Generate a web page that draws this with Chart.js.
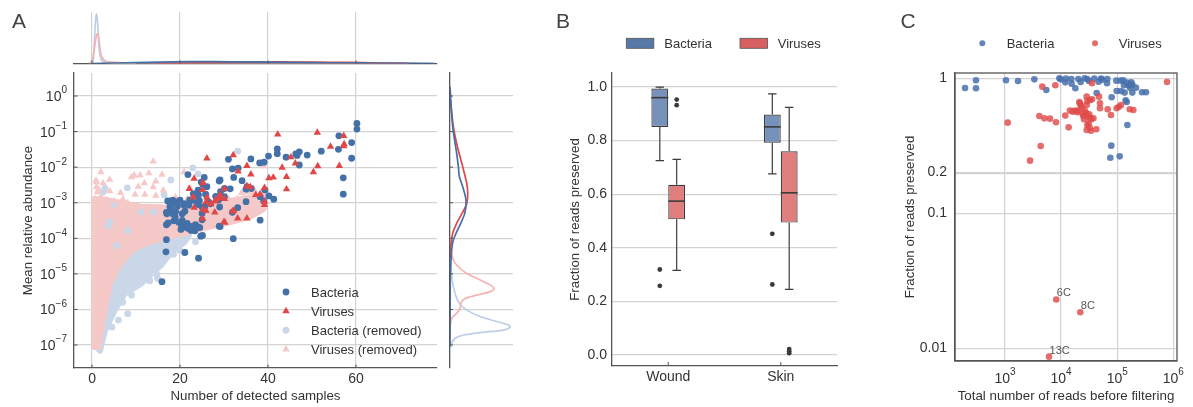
<!DOCTYPE html>
<html>
<head>
<meta charset="utf-8">
<title>Read filtering overview</title>
<script src="https://cdn.jsdelivr.net/npm/chart.js@4.4.1/dist/chart.umd.min.js"></script>
<style>
  html, body { margin: 0; padding: 0; background: #fff; }
  #wrap { position: relative; width: 1193px; height: 407px; overflow: hidden; }
  #wrap canvas { position: absolute; left: 0; top: 0; }
</style>
</head>
<body>
<div id="wrap">
  <canvas id="aTop" width="1193" height="407"></canvas>
  <canvas id="aRight" width="1193" height="407"></canvas>
  <canvas id="aMain" width="1193" height="407"></canvas>
  <canvas id="bBox" width="1193" height="407"></canvas>
  <canvas id="cReads" width="1193" height="407"></canvas>
</div>
<script>
// ---------- panel A: detected samples vs mean relative abundance (abundance stored as log10) ----------
const bacSamples = [60.2,60.2,56.1,59.0,56.0,59.0,57.1,57.1,52.1,48.9,47.1,46.3,46.6,47.1,44.1,42.1,42.1,40.1,39.1,38.1,
  36.1,33.2,31.9,31.0,32.2,34.1,35.2,36.2,29.1,30.1,30.1,29.2,25.5,25.2,26.1,25.8,24.4,22.2,20.8,24.2,
  25.0,21.2,23.6,22.1,22.8,38.2,39.3,40.2,41.3,33.1,29.1,32.1,38.2,25.1,21.1,24.2,17.7,18.9,21.8,24.8,
  28.9,24.1,23.8,18.3,20.0,17.9,19.4,20.9,22.0,22.8,24.1,25.6,26.9,28.8,17.0,18.3,20.5,18.6,20.5,20.9,
  22.0,23.2,24.1,24.7,16.9,17.3,16.8,15.9,28.9,31.9,35.0,39.0,35.0,23.0,23.9,25.0,21.1,16.9,16.9,18.9,
  19.7,21.1,25.0,26.5,28.1,31.4,29.0,21.5,22.5,23.5,20.2,24.5,20.3,21.6,23.4,17.2,18.0,19.0];
const bacLogAbund = [-0.77,-0.93,-1.12,-1.31,-1.50,-1.75,-2.30,-2.76,-1.55,-1.66,-1.57,-1.63,-1.67,-1.94,-1.72,-1.49,-1.62,-1.69,-1.86,-1.88,
  -1.77,-2.03,-2.05,-1.78,-2.29,-2.38,-2.55,-2.60,-2.36,-2.60,-2.83,-2.69,-2.29,-2.50,-2.55,-2.76,-2.94,-2.92,-3.06,-2.78,
  -3.30,-3.63,-3.72,-3.66,-3.67,-2.83,-2.64,-2.81,-2.90,-3.14,-3.67,-4.01,-3.49,-3.92,-4.40,-4.56,-3.11,-2.97,-2.21,-2.42,
  -2.39,-2.65,-2.80,-2.93,-2.93,-3.07,-3.10,-3.03,-3.07,-2.93,-3.05,-3.12,-3.03,-2.92,-3.31,-3.31,-3.31,-3.51,-3.50,-3.68,
  -3.73,-3.73,-3.68,-3.94,-4.04,-3.57,-4.38,-5.22,-3.66,-3.27,-2.97,-2.95,-2.62,-2.75,-3.00,-3.48,-3.03,-3.27,-3.62,-3.40,
  -3.55,-3.24,-3.12,-2.98,-2.82,-2.61,-3.12,-3.70,-3.78,-3.62,-3.75,-3.70,-3.62,-3.58,-3.79,-2.95,-3.20,-3.25];

const virSamples = [42.2,51.2,57.2,57.3,57.2,54.2,45.2,46.2,56.2,51.3,50.3,43.2,44.2,44.2,32.1,35.2,36.1,26.1,23.2,22.1,
  25.2,25.1,30.1,33.2,35.2,37.2,38.2,39.2,40.2,41.2,39.2,39.2,35.2,33.1,30.2,27.0,26.1,29.1,28.1,32.2,
  25.2,23.2,25.1,30.1,23.0,26.9,25.9,27.9,27.9,29.0,30.0,31.9,36.0,25.9];
const virLogAbund = [-1.08,-1.03,-1.12,-1.35,-1.41,-1.42,-1.72,-1.89,-1.96,-1.97,-2.14,-2.01,-2.27,-2.62,-1.66,-1.96,-2.20,-1.75,-2.32,-2.61,
  -2.44,-2.64,-2.61,-2.12,-2.53,-2.78,-2.76,-2.58,-2.31,-2.29,-3.06,-2.97,-3.44,-3.44,-3.56,-3.04,-2.85,-2.78,-2.92,-3.22,
  -3.19,-3.14,-3.45,-2.89,-2.84,-3.03,-3.23,-2.96,-3.27,-2.87,-3.54,-3.24,-2.56,-2.98];

// removed taxa lying outside the dense clouds
const virRemSamples = [2.0,4.0,1.0,1.0,9.0,9.6,10.9,12.9,13.9,15.9,11.9,13.9,16.2,9.8,12.0,4.0,2.0,3.2,6.1,8.1,
  20.9,22.2,21.7,28.8,34.0,35.5,37.0,39.0,0.9,1.2,0.8,1.5,5.0,7.0,14.5,17.5,19.0,24.0,26.0,31.0,
  33.0,36.5,38.5,2.5,6.5,10.5,14.5];
const virRemLogAbund = [-2.14,-2.35,-2.42,-2.56,-2.28,-2.23,-2.23,-2.17,-1.84,-2.21,-2.45,-2.56,-2.65,-2.77,-2.77,-2.67,-2.84,-2.92,-3.07,-3.01,
  -2.14,-2.58,-2.89,-2.79,-2.72,-2.70,-2.68,-1.97,-2.37,-2.70,-2.90,-2.62,-2.95,-2.90,-2.80,-2.95,-2.85,-2.95,-2.95,-2.90,
  -2.90,-2.80,-2.70,-2.45,-2.72,-2.55,-2.40];
const bacRemSamples = [2.9,8.0,17.9,22.9,24.1,16.4,5.0,4.0,8.1,11.1,14.0,20.0,14.1,14.7,11.9,13.0,33.1,8.1,14.9,13.1,
  17.4,3.7,5.6,26.0,2.5,21.0,18.5,16.0,12.5,10.0,9.0,7.0,6.0,4.5,23.5];
const bacRemLogAbund = [-2.59,-2.58,-2.36,-2.02,-2.19,-2.78,-3.05,-3.54,-3.78,-3.26,-3.26,-4.34,-4.52,-5.01,-4.85,-5.08,-1.55,-6.12,-5.13,-5.20,
  -4.30,-3.65,-4.21,-2.78,-2.70,-4.40,-4.45,-4.60,-4.70,-4.90,-5.60,-5.80,-6.30,-6.50,-4.10];

// outlines of the thousands of overlapping removed taxa
const virRemCloudSamples = [0.6,1.4,2.5,4.0,5.9,8.9,11.9,16.4,20.0,25.5,30.0,33.0,36.5,39.0,39.2,33.0,25.5,18.5,11.0,6.0,3.0,0.5,0.6];
const virRemCloudLogAbund = [-7.05,-7.05,-6.2,-5.27,-4.8,-4.34,-4.15,-3.96,-3.88,-3.7,-3.58,-3.49,-3.35,-3.16,-2.78,-2.92,-3.05,-3.15,-3.12,-3.0,-2.92,-2.9,-7.05];
const bacRemCloudSamples = [0.8,1.8,2.9,5.1,7.4,11.1,13.4,15.6,17.1,19.0,21.0,22.0,20.0,5.0,0.8,0.8];
const bacRemCloudLogAbund = [-7.0,-7.15,-6.58,-6.02,-5.55,-5.27,-4.99,-4.76,-4.52,-4.3,-4.1,-3.9,-3.6,-3.6,-4.0,-7.0];

// marginal densities: detected samples (top)
const kdeTopBacRemX = [0.0,0.3,0.6,0.85,1.0,1.15,1.4,1.6,1.9,2.3,3,5,10];
const kdeTopBacRemY = [0,0.08,0.55,0.88,0.96,0.9,0.62,0.3,0.12,0.05,0.02,0.008,0];
const kdeTopVirRemX = [-0.6,-0.1,0.4,0.8,1.05,1.25,1.5,1.8,2.1,2.6,3.2,4.5,7,12,20,35,55,72];
const kdeTopVirRemY = [0,0.04,0.2,0.45,0.56,0.58,0.5,0.3,0.16,0.08,0.045,0.025,0.015,0.01,0.008,0.005,0.002,0];
const kdeTopBacX = [0,5,15,22,28,35,45,55,65,75,78];
const kdeTopBacY = [0,0.01,0.025,0.035,0.035,0.03,0.02,0.015,0.01,0.003,0];
const kdeTopVirX = [15,25,35,42,50,58,65,72];
const kdeTopVirY = [0,0.015,0.025,0.03,0.025,0.02,0.01,0];

// marginal densities: log10 abundance (right)
const kdeRightBacLog = [0.26,-0.86,-1.61,-1.99,-2.27,-2.55,-2.83,-3.02,-3.30,-3.58,-3.86,-4.05,-4.24,-4.61,-5.08,-7.05];
const kdeRightBacDen = [0,0.043,0.106,0.133,0.149,0.202,0.245,0.255,0.234,0.170,0.096,0.053,0.032,0.016,0.005,0];
const kdeRightVirLog = [-0.02,-0.86,-1.42,-1.99,-2.46,-2.74,-3.02,-3.30,-3.58,-3.86,-4.24,-4.61];
const kdeRightVirDen = [0,0.053,0.117,0.202,0.266,0.282,0.266,0.191,0.106,0.043,0.011,0];
const kdeRightVirRemLog = [-4.24,-4.61,-4.80,-4.99,-5.17,-5.31,-5.41,-5.50,-5.60,-5.69,-5.83,-5.97,-6.11,-6.25,-6.49];
const kdeRightVirRemDen = [0,0.053,0.133,0.266,0.479,0.638,0.702,0.638,0.426,0.239,0.170,0.160,0.106,0.027,0];
const kdeRightBacRemLog = [-4.33,-5.08,-5.55,-5.83,-6.02,-6.20,-6.34,-6.44,-6.50,-6.58,-6.65,-6.72,-6.81,-6.95,-7.14];
const kdeRightBacRemDen = [0,0.027,0.080,0.149,0.266,0.479,0.745,0.931,0.957,0.851,0.479,0.213,0.080,0.027,0];

const aSampleTicks = [0, 20, 40, 60];
const aDecades = [-7, -6, -5, -4, -3, -2, -1, 0];

// ---------- panel B: fraction of reads kept per site ----------
const boxSites = ['Wound', 'Skin'];
const bacLow = [0.725, 0.676], bacQ1 = [0.851, 0.792], bacMed = [0.960, 0.851], bacQ3 = [0.994, 0.897], bacHigh = [0.999, 0.974];
const virLow = [0.316, 0.245], virQ1 = [0.506, 0.494], virMed = [0.574, 0.605], virQ3 = [0.635, 0.760], virHigh = [0.730, 0.924];
const bacOutliers = [[0.319, 0.258], [0.452, 0.263]];
const virOutliers = [[0.953, 0.932], [0.022, 0.014, 0.007]];
const fracTicks = [0, 0.2, 0.4, 0.6, 0.8, 1.0];

// ---------- panel C: reads before filtering vs fraction kept ----------
const bacReads = [1042,1706,3334,5457,9311,9817,12220,11890,15210,15400,17950,20290,22320,26300,29370,31420,39070,46740,51440,54330,
  66700,65800,43050,96600,115400,128600,132200,149500,160000,178500,186000,169200,216300,97800,116900,135700,186000,276900,326000,79600,
  141600,147700,151800,78500,75400,110700,194,304,304];
const bacFrac = [0.966,0.955,0.982,0.819,1.0,0.982,0.994,0.933,0.988,0.912,0.843,0.988,0.939,1.0,0.988,0.955,0.994,0.944,0.994,0.977,
  0.988,0.918,0.778,0.960,0.960,0.966,0.887,0.928,0.887,0.933,0.897,0.852,0.852,0.805,0.805,0.783,0.783,0.787,0.787,0.723,
  0.687,0.667,0.451,0.317,0.258,0.264,0.848,0.966,0.843];
const virReads = [1116,2793,4325,4093,5023,6340,8110,4624,7890,11890,13640,14410,16080,17700,19460,20290,21730,22320,23280,24230,
  25600,27800,28580,29370,28580,32730,35560,29370,32730,37580,29370,30970,28580,34120,42460,34590,49320,49320,47400,35560,
  67600,77400,97800,116900,166700,194100,773000,107700,21130,26300,31840,32280,24900];
const virFrac = [0.469,0.2454,0.315,0.526,0.505,0.502,0.472,0.867,0.887,0.529,0.433,0.576,0.566,0.576,0.560,0.576,0.653,0.631,0.606,0.544,
  0.497,0.556,0.634,0.679,0.731,0.691,0.698,0.520,0.511,0.505,0.451,0.464,0.414,0.409,0.419,0.497,0.653,0.599,0.731,0.918,
  0.589,0.535,0.599,0.634,0.589,0.582,0.939,0.616,0.667,0.576,0.541,0.431,0.526];
// samples that lost almost everything, labelled by name
const lowNames = ['6C', '8C', '13C'];
const lowReads = [8200, 22000, 6090];
const lowFrac = [0.0230, 0.0185, 0.00867];
const readTicks = [1e3, 1e4, 1e5, 1e6];
const cFracTicks = [0.01, 0.1, 0.2, 1];

// ---------- styling ----------
const FONT = "'Liberation Sans', Arial, Helvetica, sans-serif";
const INK = '#333333';
const GRID = '#d3d3d3';
const SPINE = '#555555';
const BLUE = '#4470a8', RED = '#e04848';
const LBLUE = '#c9d7e9', LPINK = '#f6c9c9';
const LBLUE_LINE = '#bccfe6', LPINK_LINE = '#f4b3b3';
const BOX_BLUE = '#7692ba', BOX_RED = '#e07d7d', LEG_BLUE = '#5878a8', LEG_RED = '#d86060', BOX_EDGE = '#3c3c3c';
const C_BLUE = 'rgba(72,112,170,0.85)', C_RED = 'rgba(224,74,74,0.82)';

Chart.defaults.font.family = FONT;
Chart.defaults.color = INK;
Chart.defaults.animation = false;
Chart.defaults.responsive = false;
Chart.defaults.devicePixelRatio = 1;
Chart.defaults.events = [];
Chart.defaults.plugins.legend.display = false;
Chart.defaults.plugins.tooltip.enabled = false;

const el = id => document.getElementById(id);
const pow10 = e => Math.pow(10, e);
const zipXY = (xs, ys, fy) => xs.map((x, i) => ({ x: x, y: fy ? fy(ys[i]) : ys[i] }));
const setTicks = vals => (s => { s.ticks = vals.map(v => ({ value: v })); });
const titleOpt = text => ({ display: true, text: text, font: { size: 13.3 }, padding: 0, color: INK });

function drawText(ctx, str, x, y, size, align, color) {
  ctx.save();
  ctx.font = size + 'px ' + FONT;
  ctx.fillStyle = color || INK;
  ctx.textAlign = align || 'left';
  ctx.textBaseline = 'alphabetic';
  ctx.fillText(str, x, y);
  ctx.restore();
}

function marker(ctx, style, x, y, r, color) {
  ctx.save();
  ctx.fillStyle = color;
  ctx.beginPath();
  if (style === 'triangle') {
    for (let k = 0; k < 3; k++) {
      const a = k * 2 * Math.PI / 3;
      ctx.lineTo(x + Math.sin(a) * r, y - Math.cos(a) * r);
    }
    ctx.closePath();
  } else {
    ctx.arc(x, y, r, 0, Math.PI * 2);
  }
  ctx.fill();
  ctx.restore();
}

// "10" with a raised exponent, for log axes
function powLabel(ctx, e, x, baseY, anchor) {
  const exp = e < 0 ? '\u2212' + (-e) : String(e);
  ctx.save();
  ctx.fillStyle = INK;
  ctx.textBaseline = 'alphabetic';
  ctx.textAlign = 'left';
  ctx.font = '14px ' + FONT;
  const wb = ctx.measureText('10').width;
  ctx.font = '10px ' + FONT;
  const we = ctx.measureText(exp).width;
  const x0 = anchor === 'right' ? x - wb - we : x - (wb + we) / 2;
  ctx.font = '14px ' + FONT;
  ctx.fillText('10', x0, baseY);
  ctx.font = '10px ' + FONT;
  ctx.fillText(exp, x0 + wb, baseY - 7.6);
  ctx.restore();
}

// short tick marks pointing into the plot
function inwardTicks(chart, id, len) {
  const s = chart.scales[id], a = chart.chartArea, ctx = chart.ctx;
  ctx.save();
  ctx.strokeStyle = SPINE;
  ctx.lineWidth = 1;
  ctx.beginPath();
  s.ticks.forEach((t, i) => {
    const p = s.getPixelForTick(i);
    if (s.isHorizontal()) { ctx.moveTo(p, a.bottom); ctx.lineTo(p, a.bottom - len); }
    else { ctx.moveTo(a.left, p); ctx.lineTo(a.left + len, p); }
  });
  ctx.stroke();
  ctx.restore();
}

// ---------- A: top marginal density ----------
const kdeLine = (xs, ys, color, fy) => ({
  data: zipXY(xs, ys, fy), showLine: true, borderColor: color, borderWidth: 1.7,
  pointRadius: 0, tension: 0.3, fill: false
});

new Chart(el('aTop'), {
  type: 'scatter',
  data: { datasets: [
    kdeLine(kdeTopBacX, kdeTopBacY, BLUE),
    kdeLine(kdeTopVirX, kdeTopVirY, RED),
    kdeLine(kdeTopVirRemX, kdeTopVirRemY, LPINK_LINE),
    kdeLine(kdeTopBacRemX, kdeTopBacRemY, LBLUE_LINE)
  ] },
  options: {
    layout: { padding: { left: 74, right: 756, top: 12, bottom: 343.5 } },
    scales: {
      x: { type: 'linear', min: -4.1, max: 78.4, afterBuildTicks: setTicks(aSampleTicks),
        ticks: { display: false }, grid: { color: GRID, lineWidth: 1.2, drawTicks: false },
        border: { color: SPINE, width: 1.3 }, afterFit: s => { s.height = 0; } },
      y: { display: false, min: 0, max: 1 }
    }
  },
  plugins: [{ id: 'topTicks', afterDraw: c => inwardTicks(c, 'x', 3) }]
});

// ---------- A: right marginal density ----------
new Chart(el('aRight'), {
  type: 'scatter',
  data: { datasets: [
    kdeLine(kdeRightBacDen, kdeRightBacLog, BLUE),
    kdeLine(kdeRightVirDen, kdeRightVirLog, RED),
    kdeLine(kdeRightVirRemDen, kdeRightVirRemLog, LPINK_LINE),
    kdeLine(kdeRightBacRemDen, kdeRightBacRemLog, LBLUE_LINE)
  ].map(d => { d.data = d.data.map(p => ({ x: p.x, y: pow10(p.y) })); return d; }) },
  options: {
    layout: { padding: { left: 450, right: 680, top: 73, bottom: 39 } },
    scales: {
      x: { display: false, min: 0, max: 1 },
      y: { type: 'logarithmic', min: pow10(-7.647), max: pow10(0.647),
        afterBuildTicks: setTicks(aDecades.map(pow10)), ticks: { display: false },
        grid: { color: GRID, lineWidth: 1.2, drawTicks: false },
        border: { color: SPINE, width: 1.3 }, afterFit: s => { s.width = 0; } }
    }
  },
  plugins: [{ id: 'rightTicks', afterDraw: c => inwardTicks(c, 'y', 3) }]
});

// ---------- A: main scatter ----------
const aLegend = [
  ['Bacteria', 'circle', BLUE], ['Viruses', 'triangle', RED],
  ['Bacteria (removed)', 'circle', LBLUE], ['Viruses (removed)', 'triangle', LPINK]
];

new Chart(el('aMain'), {
  type: 'scatter',
  data: { datasets: [
    { label: 'Viruses', data: zipXY(virSamples, virLogAbund, pow10), pointStyle: 'triangle',
      pointRadius: 4.3, backgroundColor: RED, pointBorderWidth: 0, order: 0 },
    { label: 'Bacteria', data: zipXY(bacSamples, bacLogAbund, pow10), pointStyle: 'circle',
      pointRadius: 3.4, backgroundColor: BLUE, pointBorderWidth: 0, order: 1 },
    { label: 'Viruses (removed)', data: zipXY(virRemSamples, virRemLogAbund, pow10), pointStyle: 'triangle',
      pointRadius: 4.3, backgroundColor: LPINK, pointBorderWidth: 0, order: 2 },
    { label: 'Bacteria (removed)', data: zipXY(bacRemSamples, bacRemLogAbund, pow10), pointStyle: 'circle',
      pointRadius: 3.4, backgroundColor: LBLUE, pointBorderWidth: 0, order: 3 },
    { data: zipXY(virRemCloudSamples, virRemCloudLogAbund, pow10), showLine: true, fill: 'shape',
      backgroundColor: LPINK, borderColor: LPINK, borderWidth: 6.5, borderJoinStyle: 'round',
      pointRadius: 0, tension: 0, order: 4 },
    { data: zipXY(bacRemCloudSamples, bacRemCloudLogAbund, pow10), showLine: true, fill: 'shape',
      backgroundColor: LBLUE, borderColor: LBLUE, borderWidth: 6.5, borderJoinStyle: 'round',
      pointRadius: 0, tension: 0, order: 5 }
  ] },
  options: {
    layout: { padding: { left: 20.5, right: 756, top: 73, bottom: 2.5 } },
    scales: {
      x: { type: 'linear', min: -4.1, max: 78.4, afterBuildTicks: setTicks(aSampleTicks),
        ticks: { font: { size: 14 }, padding: 3, color: INK },
        grid: { color: GRID, lineWidth: 1.2, drawTicks: false }, border: { color: SPINE, width: 1.3 },
        title: titleOpt('Number of detected samples'), afterFit: s => { s.height = 36.5; } },
      y: { type: 'logarithmic', min: pow10(-7.647), max: pow10(0.647),
        afterBuildTicks: setTicks(aDecades.map(pow10)), ticks: { display: false },
        grid: { color: GRID, lineWidth: 1.2, drawTicks: false }, border: { color: SPINE, width: 1.3 },
        title: titleOpt('Mean relative abundance'), afterFit: s => { s.width = 53.5; } }
    }
  },
  plugins: [{
    id: 'aDecor',
    afterDraw(chart) {
      const ctx = chart.ctx, y = chart.scales.y;
      y.ticks.forEach(t => powLabel(ctx, Math.round(Math.log10(t.value)), 67, y.getPixelForValue(t.value) + 5, 'right'));
      inwardTicks(chart, 'x', 3.5);
      inwardTicks(chart, 'y', 3.5);
      aLegend.forEach((row, i) => {
        const ly = 292 + i * 19.1;
        marker(ctx, row[1], 286, ly, row[1] === 'triangle' ? 4.3 : 3.4, row[2]);
        drawText(ctx, row[0], 311, ly + 4.6, 13);
      });
      drawText(ctx, 'A', 12, 27.5, 21, 'left', '#444');
    }
  }]
});

// ---------- B: boxes with whiskers ----------
const boxParts = [
  { low: bacLow, q1: bacQ1, med: bacMed, q3: bacQ3, high: bacHigh, out: bacOutliers },
  { low: virLow, q1: virQ1, med: virMed, q3: virQ3, high: virHigh, out: virOutliers }
];

const boxWhiskers = {
  id: 'boxWhiskers',
  afterDatasetsDraw(chart) {
    const ctx = chart.ctx, y = chart.scales.y;
    boxParts.forEach((g, d) => {
      chart.getDatasetMeta(d).data.forEach((bar, i) => {
        const cx = bar.x, hw = bar.width / 2;
        const py = v => y.getPixelForValue(v);
        ctx.save();
        ctx.strokeStyle = BOX_EDGE;
        ctx.lineWidth = 1.2;
        ctx.beginPath();
        ctx.moveTo(cx, py(g.q3[i])); ctx.lineTo(cx, py(g.high[i]));
        ctx.moveTo(cx, py(g.q1[i])); ctx.lineTo(cx, py(g.low[i]));
        [g.high[i], g.low[i]].forEach(v => { ctx.moveTo(cx - hw / 2, py(v)); ctx.lineTo(cx + hw / 2, py(v)); });
        ctx.stroke();
        ctx.lineWidth = 1.6;
        ctx.beginPath();
        ctx.moveTo(cx - hw, py(g.med[i])); ctx.lineTo(cx + hw, py(g.med[i]));
        ctx.stroke();
        ctx.fillStyle = '#3a3a3a';
        g.out[i].forEach(v => { ctx.beginPath(); ctx.arc(cx, py(v), 2.4, 0, Math.PI * 2); ctx.fill(); });
        ctx.restore();
      });
    });
  },
  afterDraw(chart) {
    const ctx = chart.ctx;
    inwardTicks(chart, 'x', 4);
    [['Bacteria', LEG_BLUE, 626.3, 664.3], ['Viruses', LEG_RED, 740, 777.7]].forEach(l => {
      ctx.save();
      ctx.fillStyle = l[1];
      ctx.strokeStyle = '#555';
      ctx.lineWidth = 0.8;
      ctx.fillRect(l[2], 38.3, 27.5, 10);
      ctx.strokeRect(l[2], 38.3, 27.5, 10);
      ctx.restore();
      drawText(ctx, l[0], l[3], 47.9, 13);
    });
    drawText(ctx, 'B', 556, 27.5, 21, 'left', '#444');
  }
};

new Chart(el('bBox'), {
  type: 'bar',
  data: {
    labels: boxSites,
    datasets: [
      { label: 'Bacteria', data: boxSites.map((_, i) => [bacQ1[i], bacQ3[i]]), backgroundColor: BOX_BLUE,
        borderColor: BOX_EDGE, borderWidth: 1.2, borderSkipped: false },
      { label: 'Viruses', data: boxSites.map((_, i) => [virQ1[i], virQ3[i]]), backgroundColor: BOX_RED,
        borderColor: BOX_EDGE, borderWidth: 1.2, borderSkipped: false }
    ]
  },
  options: {
    layout: { padding: { left: 567, right: 356, top: 73, bottom: 11 } },
    datasets: { bar: { categoryPercentage: 0.3, barPercentage: 1.0 } },
    scales: {
      x: { grid: { display: false, drawTicks: false }, border: { color: SPINE, width: 1.3 },
        ticks: { font: { size: 14 }, padding: 3, color: INK }, afterFit: s => { s.height = 30; } },
      y: { min: -0.041, max: 1.052, afterBuildTicks: setTicks(fracTicks),
        ticks: { callback: v => v.toFixed(1), font: { size: 14 }, padding: 5, color: INK },
        grid: { color: GRID, lineWidth: 1.2, drawTicks: false }, border: { color: SPINE, width: 1.3 },
        title: titleOpt('Fraction of reads preserved'), afterFit: s => { s.width = 45; } }
    }
  },
  plugins: [boxWhiskers]
});

// ---------- C: reads before filtering ----------
new Chart(el('cReads'), {
  type: 'scatter',
  data: { datasets: [
    { label: 'Viruses', data: zipXY(virReads.concat(lowReads), virFrac.concat(lowFrac)), backgroundColor: C_RED,
      pointRadius: 3.3, pointBorderWidth: 0, order: 0 },
    { label: 'Bacteria', data: zipXY(bacReads, bacFrac), backgroundColor: C_BLUE,
      pointRadius: 3.3, pointBorderWidth: 0, order: 1 }
  ] },
  options: {
    layout: { padding: { left: 902, right: 16, top: 73, bottom: 2.3 } },
    scales: {
      x: { type: 'logarithmic', min: 128.5, max: 1.164e6, afterBuildTicks: setTicks(readTicks),
        ticks: { display: false }, grid: { color: GRID, lineWidth: 1.2, drawTicks: false },
        border: { color: SPINE, width: 1.3 }, title: titleOpt('Total number of reads before filtering'),
        afterFit: s => { s.height = 43.7; } },
      y: { type: 'logarithmic', min: 0.00805, max: 1.094, afterBuildTicks: setTicks(cFracTicks),
        ticks: { callback: v => String(v), font: { size: 14 }, padding: 8, color: INK },
        grid: { color: GRID, lineWidth: c => (c.tick && c.tick.value === 0.2 ? 2.2 : 1.2), drawTicks: false },
        border: { color: SPINE, width: 1.3 }, title: titleOpt('Fraction of reads preserved'),
        afterFit: s => { s.width = 53; } }
    }
  },
  plugins: [{
    id: 'cDecor',
    afterDraw(chart) {
      const ctx = chart.ctx, a = chart.chartArea, x = chart.scales.x, y = chart.scales.y;
      ctx.save();
      ctx.strokeStyle = SPINE;
      ctx.lineWidth = 1.3;
      ctx.strokeRect(a.left, a.top, a.right - a.left, a.bottom - a.top);
      ctx.restore();
      x.ticks.forEach(t => powLabel(ctx, Math.round(Math.log10(t.value)), x.getPixelForValue(t.value), 383, 'center'));
      lowNames.forEach((n, i) => {
        drawText(ctx, n, x.getPixelForValue(lowReads[i]) + 0.5, y.getPixelForValue(lowFrac[i]) - 3, 11, 'left', '#555');
      });
      marker(ctx, 'circle', 982.3, 43.3, 3, C_BLUE);
      drawText(ctx, 'Bacteria', 1006.7, 47.9, 13);
      marker(ctx, 'circle', 1095, 43.3, 3, C_RED);
      drawText(ctx, 'Viruses', 1118.7, 47.9, 13);
      drawText(ctx, 'C', 900.5, 27.5, 21, 'left', '#444');
    }
  }]
});
</script>
</body>
</html>
